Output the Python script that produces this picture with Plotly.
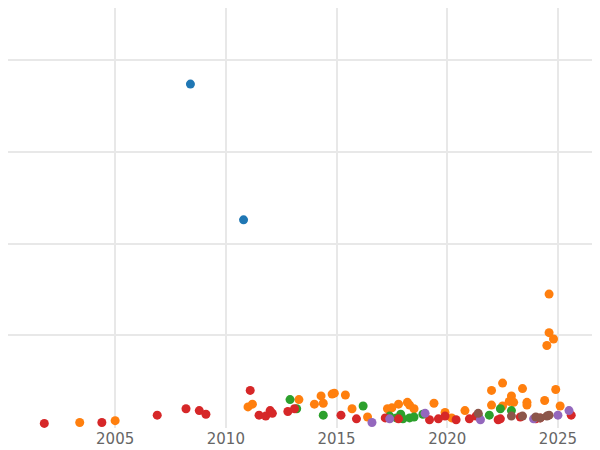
import plotly.graph_objects as go

red_x = [2001.8,2004.4,2006.9,2008.2,2008.8,2009.1,2011.1,2011.5,2011.8,2012.0,2012.1,2012.8,2013.1,2015.2,2015.9,2017.2,2017.8,2019.2,2019.6,2019.9,2020.4,2021.0,2021.3,2022.3,2022.4,2023.3,2024.0,2024.2,2025.6]
red_y = [4,5,13,20,18,14,40,13,12,18,15,17,20,13,9,10,9,8,9,12,8,9,12,8,9,11,9,10,13]
orange_x = [2003.4,2005.0,2011.0,2011.2,2013.3,2014.0,2014.3,2014.4,2014.8,2014.9,2015.4,2015.7,2016.4,2017.3,2017.5,2017.8,2018.2,2018.3,2018.5,2019.4,2019.9,2020.2,2020.8,2022.0,2022.0,2022.5,2022.5,2022.8,2022.9,2023.0,2023.4,2023.6,2023.6,2024.4,2024.6,2024.6,2024.8,2024.5,2024.9,2025.1]
orange_y = [5,7,22,25,30,25,34,26,36,37,35,20,11,20,21,25,27,24,20,26,16,10,18,24,40,48,23,28,34,27,42,27,24,29,145,103,96,89,41,23]
green_x = [2012.9,2013.2,2014.4,2016.2,2017.4,2017.7,2017.9,2018.0,2018.3,2018.5,2018.9,2021.4,2021.9,2022.4,2022.9]
green_y = [30,20,13,23,12,10,14,9,10,11,14,13,13,20,18]
blue_x = [2008.4,2010.8]
blue_y = [374,226]
purple_x = [2016.6,2017.4,2019.0,2021.5,2023.9,2025.0,2025.5]
purple_y = [5,9,15,8,9,13,18]
brown_x = [2021.4,2022.9,2023.4,2024.0,2024.2,2024.5,2024.6]
brown_y = [15,12,12,11,10,12,13]

fig = go.Figure()
for xs, ys, c in [(blue_x,blue_y,"#1f77b4"),(orange_x,orange_y,"#ff7f0e"),(green_x,green_y,"#2ca02c"),
                  (red_x,red_y,"#d62728"),(purple_x,purple_y,"#9467bd"),(brown_x,brown_y,"#8c564b")]:
    fig.add_trace(go.Scatter(x=xs, y=ys, mode="markers", marker=dict(color=c, size=9), showlegend=False))

fig.update_layout(width=592, height=442, margin=dict(l=0, r=0, t=0, b=22),
                  plot_bgcolor="white", paper_bgcolor="white",
                  font=dict(family="DejaVu Sans", size=15, color="#666"))
fig.update_xaxes(range=[2000.16, 2026.9], tickvals=[2005,2010,2015,2020,2025],
                 showgrid=True, gridcolor="#e8e8e8", gridwidth=2, zeroline=False, showline=False, ticks="")
fig.update_yaxes(range=[-1, 457], tickvals=[0,100,200,300,400], showticklabels=False, ticks="",
                 showgrid=True, gridcolor="#e8e8e8", gridwidth=2, zeroline=False)
fig.write_html("out.html")
